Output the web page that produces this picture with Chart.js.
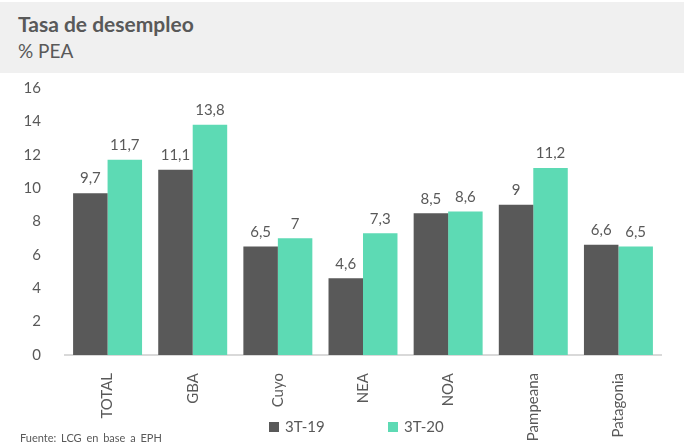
<!DOCTYPE html>
<html>
<head>
<meta charset="utf-8">
<script src="https://cdn.jsdelivr.net/npm/chart.js@4"></script>
<style>
  body { margin: 0; width: 684px; height: 446px; position: relative; background: #fff; font-family: Lato, sans-serif; color: #595959; overflow: hidden; }
  .header { position: absolute; left: 0; top: 2px; width: 684px; height: 71px; background: #f0f0f0; }
  .title { position: absolute; left: 18px; top: 9px; font-size: 21px; font-weight: bold; }
  .sub { position: absolute; left: 18px; top: 37px; font-size: 19px; }
  #wrap { position: absolute; left: 0; top: 63px; width: 684px; height: 383px; }
  .legend { position: absolute; top: 417px; font-size: 15px; }
  .legend span { display: inline-block; width: 10px; height: 10px; margin-right: 6px; }
  .fuente { position: absolute; left: 20px; top: 431px; font-size: 11px; word-spacing: 2px; }
</style>
</head>
<body>
<div class="header">
  <div class="title">Tasa de desempleo</div>
  <div class="sub">% PEA</div>
</div>
<div id="wrap"><canvas id="chart"></canvas></div>
<div class="legend" style="left:269px"><span style="background:#595959"></span>3T-19</div>
<div class="legend" style="left:388px"><span style="background:#5ddab4"></span>3T-20</div>
<div class="fuente">Fuente: LCG en base a EPH</div>
<script>
const regiones = ['TOTAL', 'GBA', 'Cuyo', 'NEA', 'NOA', 'Pampeana', 'Patagonia'];
const serie2019 = [9.7, 11.1, 6.5, 4.6, 8.5, 9, 6.6];
const serie2020 = [11.7, 13.8, 7, 7.3, 8.6, 11.2, 6.5];

const valueLabels = {
    id: 'valueLabels',
    afterDatasetsDraw(chart) {
        const ctx = chart.ctx;
        ctx.save();
        ctx.font = '15px Lato, sans-serif';
        ctx.fillStyle = '#595959';
        ctx.textAlign = 'center';
        ctx.textBaseline = 'bottom';
        chart.data.datasets.forEach((ds, i) => {
            chart.getDatasetMeta(i).data.forEach((bar, j) => {
                ctx.fillText(String(ds.data[j]).replace('.', ','), bar.x, bar.y - 7);
            });
        });
        ctx.restore();
    }
};

new Chart(document.getElementById('chart'), {
    type: 'bar',
    data: {
        labels: regiones,
        datasets: [
            { label: '3T-19', data: serie2019, backgroundColor: '#595959' },
            { label: '3T-20', data: serie2020, backgroundColor: '#5ddab4' }
        ]
    },
    options: {
        responsive: true,
        maintainAspectRatio: false,
        animation: false,
        categoryPercentage: 0.81,
        barPercentage: 1,
        layout: { padding: { top: 4, right: 23, left: 0, bottom: 0 } },
        plugins: {
            legend: { display: false },
            tooltip: { enabled: false }
        },
        scales: {
            x: {
                grid: { display: false },
                border: { display: true, color: '#d9d9d9', width: 2 },
                ticks: {
                    color: '#595959',
                    font: { family: 'Lato', size: 15 },
                    minRotation: 90,
                    maxRotation: 90,
                    padding: 10
                },
                afterFit: s => { s.height = 91; }
            },
            y: {
                min: 0,
                max: 16,
                grid: { display: false },
                border: { display: false },
                ticks: {
                    stepSize: 2,
                    color: '#595959',
                    font: { family: 'Lato', size: 15 },
                    padding: 16
                },
                afterFit: s => { s.width = 65; }
            }
        }
    },
    plugins: [valueLabels]
});
</script>
</body>
</html>
